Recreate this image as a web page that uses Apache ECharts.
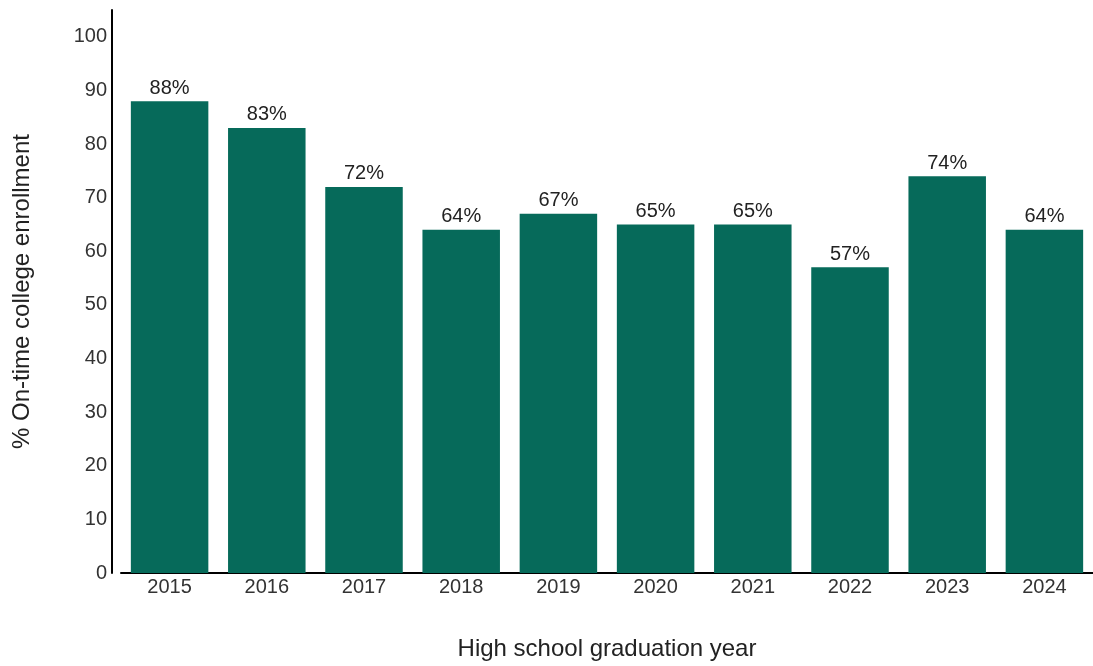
<!DOCTYPE html>
<html>
<head>
<meta charset="utf-8">
<script src="https://cdn.jsdelivr.net/npm/echarts@6/dist/echarts.min.js"></script>
<style>
  html, body { margin: 0; padding: 0; background: #fff; }
  #main { width: 1093px; height: 666px; }
</style>
</head>
<body>
<div id="main"></div>
<script>
var years = ['2015', '2016', '2017', '2018', '2019', '2020', '2021', '2022', '2023', '2024'];
var enrollment = [88, 83, 72, 64, 67, 65, 65, 57, 74, 64];

var myChart = echarts.init(document.getElementById('main'));

var option = {
    animation: false,
    textStyle: { fontFamily: 'Liberation Sans, Arial, sans-serif' },
    grid: { left: 121, right: 0, top: 10, bottom: 91, containLabel: false },
    xAxis: {
        type: 'category',
        data: years,
        name: 'High school graduation year',
        nameLocation: 'middle',
        nameGap: 64,
        nameTextStyle: { fontSize: 24, color: '#222' },
        axisLine: { lineStyle: { color: '#000', width: 2 } },
        axisTick: { show: false },
        axisLabel: { fontSize: 20, color: '#333', margin: 4 }
    },
    yAxis: {
        type: 'value',
        min: 0,
        max: 105,
        interval: 10,
        offset: 9,
        name: '% On-time college enrollment',
        nameLocation: 'middle',
        nameGap: 78,
        nameTextStyle: { fontSize: 24, color: '#222' },
        axisLine: { show: true, lineStyle: { color: '#000', width: 2 } },
        axisTick: { show: false },
        splitLine: { show: false },
        axisLabel: { fontSize: 20, color: '#333', margin: 5, showMaxLabel: false }
    },
    series: [{
        type: 'bar',
        data: enrollment,
        barWidth: 77.5,
        itemStyle: { color: '#066a5a' },
        label: {
            show: true,
            position: 'top',
            distance: 3,
            formatter: '{c}%',
            fontSize: 20,
            color: '#222'
        }
    }]
};

myChart.setOption(option);
</script>
</body>
</html>
